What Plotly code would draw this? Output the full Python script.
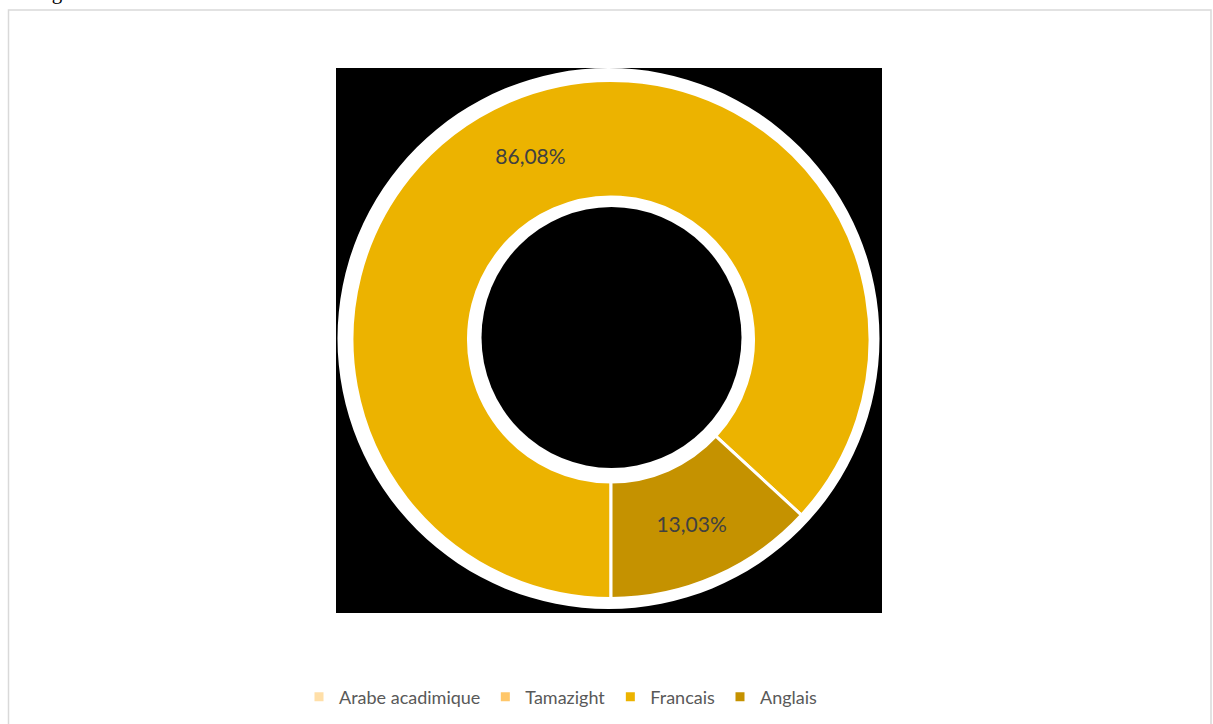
import plotly.graph_objects as go

# Language shares (%)
languages = ["Arabe acadimique", "Tamazight", "Francais", "Anglais"]
shares = [0, 0, 86.08, 13.03]
colors = ["#FFDFA8", "#FFC76A", "#ECB300", "#C59200"]

W, H = 1213, 724


def px_x(x):
    return x / W


def px_y(y):
    return 1 - y / H


def pct(v):
    return "" if v == 0 else f"{v:.2f}".replace(".", ",") + "%"


labels_text = [pct(v) for v in shares]

# Pie geometry in pixels
cx, cy, r = 611, 339.5, 259

fig = go.Figure(
    go.Pie(
        labels=languages,
        values=shares,
        text=labels_text,
        textinfo="text",
        textposition="inside",
        insidetextorientation="horizontal",
        textfont=dict(family="Lato", size=21, color="#404040"),
        marker=dict(colors=colors, line=dict(color="white", width=3)),
        hole=142.5 / r,
        sort=False,
        direction="clockwise",
        rotation=180,
        domain=dict(x=[px_x(cx - r), px_x(cx + r)], y=[px_y(cy + r), px_y(cy - r)]),
        hoverinfo="label+percent",
    )
)

shapes = [
    # outer frame
    dict(type="rect", xref="paper", yref="paper",
         x0=px_x(8.5), x1=px_x(1211), y0=px_y(740), y1=px_y(10),
         line=dict(color="#D9D9D9", width=1.5), fillcolor="rgba(0,0,0,0)", layer="below"),
    # black backdrop
    dict(type="rect", xref="paper", yref="paper",
         x0=px_x(336), x1=px_x(882), y0=px_y(613), y1=px_y(68),
         line=dict(width=0), fillcolor="black", layer="below"),
    # white halo around the ring
    dict(type="circle", xref="paper", yref="paper",
         x0=px_x(337.5), x1=px_x(879.5), y0=px_y(609), y1=px_y(68),
         line=dict(width=0), fillcolor="white", layer="below"),
    # dark centre
    dict(type="circle", xref="paper", yref="paper",
         x0=px_x(481.5), x1=px_x(741.5), y0=px_y(468), y1=px_y(207),
         line=dict(width=0), fillcolor="black", layer="below"),
]

fig.update_layout(
    width=W,
    height=H,
    margin=dict(l=0, r=0, t=0, b=0),
    paper_bgcolor="white",
    plot_bgcolor="white",
    shapes=shapes,
    showlegend=True,
    legend=dict(
        orientation="h",
        x=px_x(561),
        xanchor="center",
        y=px_y(697),
        yanchor="middle",
        font=dict(family="Lato", size=18, color="#595959"),
        traceorder="normal",
        itemclick=False,
    ),
    annotations=[
        dict(text="Anglais", xref="paper", yref="paper", x=px_x(24), y=px_y(6),
             xanchor="left", yanchor="bottom", showarrow=False,
             font=dict(family="Liberation Serif", size=21, color="black")),
    ],
)

fig.write_html("out.html")
